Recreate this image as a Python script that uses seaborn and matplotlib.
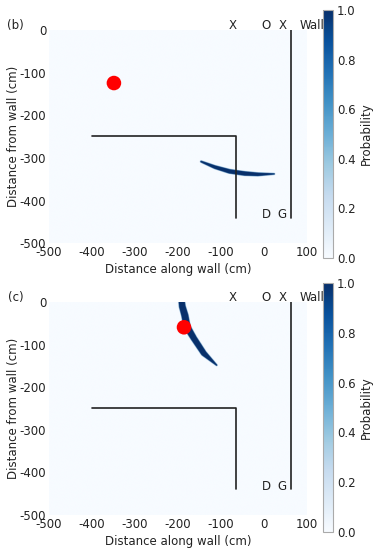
import numpy as np
import matplotlib
matplotlib.use("Agg")
import matplotlib.pyplot as plt
import seaborn as sns

sns.set_theme(style="white")
plt.rcParams['font.family'] = ['DejaVu Sans']
plt.rcParams['axes.unicode_minus'] = False

# grid limits (cm)
x_range = [-500, 100]
y_range = [-500, 0]

# centerline of the high-probability band
band_b_x = [-146, -114, -80, -45, -14, 24]
band_b_y = [-309, -322, -332, -337, -339, -338]
band_b_hw = [2.5, 4.5, 5.5, 5.5, 4.5, 2]

band_c_x = [-192, -190, -184, -179, -163, -140, -110]
band_c_y = [8, -10, -31, -58, -85, -120, -148]
band_c_hw = [7.5, 8, 8.5, 8.5, 7.5, 7, 2]

# source positions (red dots)
dot_b = (-349, -124)
dot_c = (-186, -59)

# wall geometry
inner_wall_x = [-400, -64, -64]
inner_wall_y = [-248, -248, -440]
outer_wall_x = [64, 64]
outer_wall_y = [0, -440]

top_labels = [("X", -74), ("O", 5), ("X", 43)]
bottom_labels = [("D", 5), ("G", 42)]

FS = 8.5
INK = "#222222"


def band_grid(px, py, hw, step=1.0):
    xs = np.arange(x_range[0], x_range[1] + step, step)
    ys = np.arange(y_range[0], y_range[1] + step, step)
    gx, gy = np.meshgrid(xs, ys)
    prob = np.zeros_like(gx)
    for i in range(len(px) - 1):
        ax_, ay_ = px[i], py[i]
        bx_, by_ = px[i + 1], py[i + 1]
        dx, dy = bx_ - ax_, by_ - ay_
        t = ((gx - ax_) * dx + (gy - ay_) * dy) / (dx * dx + dy * dy)
        t = np.clip(t, 0, 1)
        d = np.hypot(gx - (ax_ + t * dx), gy - (ay_ + t * dy))
        w = hw[i] + t * (hw[i + 1] - hw[i])
        prob = np.maximum(prob, np.clip((w - d) / 1.2 + 0.5, 0, 1))
    return prob


def draw_panel(ax, cax, px, py, hw, dot, tag):
    prob = band_grid(px, py, hw)
    im = ax.imshow(prob, origin="lower", cmap="Blues", vmin=0, vmax=1,
                   extent=[x_range[0], x_range[1], y_range[0], y_range[1]],
                   aspect="auto", interpolation="bilinear")
    sns.lineplot(x=inner_wall_x, y=inner_wall_y, ax=ax, color=INK,
                 lw=1.2, sort=False, estimator=None)
    sns.lineplot(x=outer_wall_x, y=outer_wall_y, ax=ax, color=INK,
                 lw=1.2, sort=False, estimator=None)
    sns.scatterplot(x=[dot[0]], y=[dot[1]], ax=ax, color="#ff0000", s=110,
                    edgecolor="none", zorder=5)
    for lab, xv in top_labels:
        ax.text(xv, 10, lab, ha="center", va="center", fontsize=FS, color=INK)
    ax.text(83, 10, "Wall", ha="left", va="center", fontsize=FS, color=INK)
    for lab, xv in bottom_labels:
        ax.text(xv, -433, lab, ha="center", va="center", fontsize=FS, color=INK)
    ax.set_xlim(x_range)
    ax.set_ylim(y_range)
    ax.set_xticks(range(-500, 101, 100))
    ax.set_yticks(range(-500, 1, 100))
    ax.tick_params(length=0, labelsize=FS, pad=2, colors=INK)
    for s in ax.spines.values():
        s.set_visible(False)
    ax.set_xlabel("Distance along wall (cm)", fontsize=FS, labelpad=3, color=INK)
    ax.set_ylabel("Distance from wall (cm)", fontsize=FS, labelpad=0, color=INK)
    ax.text(-0.13, 1.02, tag, transform=ax.transAxes, ha="center", va="center",
            fontsize=FS, color=INK)
    cb = plt.colorbar(im, cax=cax)
    cb.set_ticks([0, 0.2, 0.4, 0.6, 0.8, 1.0])
    cb.ax.tick_params(length=0, labelsize=FS, pad=3, colors=INK)
    cb.outline.set_edgecolor("#aaaaaa")
    cb.outline.set_linewidth(0.8)
    cb.set_label("Probability", fontsize=FS, color=INK, labelpad=3)


fig = plt.figure(figsize=(3.78, 5.5), dpi=100)
ax1 = fig.add_axes([0.1296, 0.558, 0.6825, 0.387])
cax1 = fig.add_axes([0.854, 0.531, 0.0265, 0.451])
ax2 = fig.add_axes([0.1296, 0.0636, 0.6825, 0.387])
cax2 = fig.add_axes([0.854, 0.0327, 0.0265, 0.453])

draw_panel(ax1, cax1, band_b_x, band_b_y, band_b_hw, dot_b, "(b)")
draw_panel(ax2, cax2, band_c_x, band_c_y, band_c_hw, dot_c, "(c)")

fig.savefig("out.png", dpi=100)
